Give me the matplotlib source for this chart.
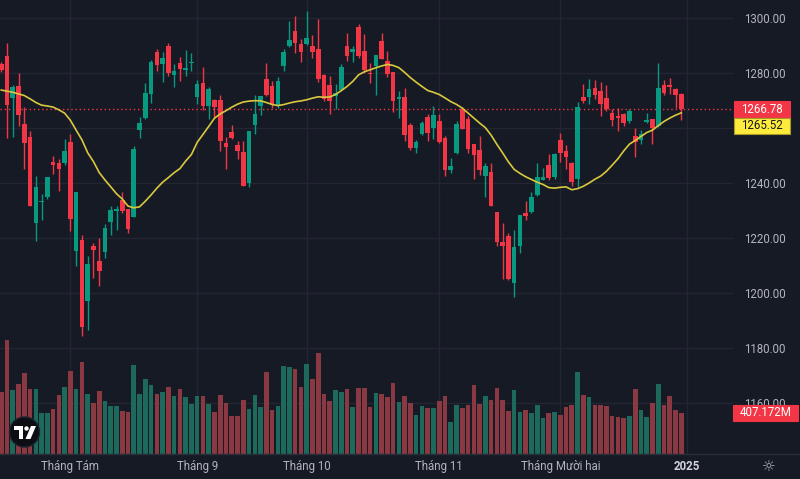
import numpy as np
import pandas as pd
import matplotlib
matplotlib.use("Agg")
import matplotlib.pyplot as plt
from matplotlib.patches import Rectangle, Circle, Polygon
from matplotlib.transforms import Affine2D

plt.rcParams['font.family'] = ['Roboto', 'DejaVu Sans']

# Daily candles, mid July 2024 .. 31 Dec 2024
opens = [1283.2, 1286.2, 1271.0, 1275.4, 1261.5, 1256.8, 1225.6, 1233.2, 1234.8, 1247.8,
         1247.4, 1247.2, 1254.9, 1215.4, 1219.3, 1197.2, 1217.1, 1211.6, 1215.0, 1225.8,
         1229.7, 1233.8, 1230.5, 1227.8, 1259.3, 1263.5, 1272.5, 1287.6, 1283.2, 1289.8,
         1279.4, 1283.5, 1281.2, 1283.6, 1271.4, 1276.5, 1268.0, 1270.2, 1270.2, 1254.4,
         1258.5, 1253.7, 1251.3, 1239.9, 1261.1, 1268.0, 1277.8, 1275.3, 1268.1, 1282.5,
         1289.8, 1295.3, 1290.5, 1290.5, 1289.8, 1288.6, 1279.3, 1275.6, 1271.6, 1273.8,
         1289.8, 1287.8, 1296.7, 1288.0, 1280.1, 1282.7, 1291.5, 1284.5, 1280.4, 1270.7,
         1271.2, 1261.1, 1252.8, 1257.8, 1263.9, 1260.1, 1262.5, 1256.2, 1244.7, 1250.8,
         1266.9, 1263.3, 1254.1, 1252.0, 1242.7, 1243.9, 1229.6, 1218.4, 1220.9, 1203.5,
         1217.2, 1229.0, 1229.3, 1235.6, 1241.1, 1246.4, 1242.3, 1255.8, 1251.6, 1247.4,
         1241.5, 1271.2, 1271.2, 1274.4, 1273.5, 1270.8, 1265.3, 1264.2, 1265.0, 1262.5,
         1257.1, 1255.6, 1262.3, 1263.2, 1260.7, 1275.8, 1275.6, 1274.1, 1272.2]
highs = [1284.0, 1290.8, 1275.5, 1280.1, 1267.5, 1259.0, 1242.5, 1235.9, 1242.3, 1249.9,
         1248.6, 1255.9, 1257.8, 1236.8, 1221.0, 1213.5, 1218.1, 1220.1, 1225.0, 1231.6,
         1231.8, 1236.6, 1230.7, 1253.5, 1264.0, 1276.2, 1284.7, 1288.6, 1287.6, 1290.8,
         1283.2, 1285.9, 1288.4, 1287.1, 1277.5, 1282.3, 1274.8, 1270.4, 1271.9, 1256.8,
         1261.1, 1255.4, 1255.4, 1259.0, 1272.0, 1271.8, 1283.5, 1277.1, 1278.4, 1288.7,
         1298.9, 1300.7, 1292.2, 1302.5, 1293.8, 1299.5, 1279.6, 1278.9, 1276.0, 1283.2,
         1294.7, 1289.8, 1297.8, 1294.3, 1283.5, 1286.6, 1294.4, 1288.1, 1280.5, 1273.6,
         1274.4, 1261.7, 1255.6, 1262.7, 1265.0, 1268.0, 1265.0, 1257.2, 1249.2, 1262.5,
         1267.5, 1264.4, 1254.3, 1257.2, 1247.2, 1247.2, 1229.6, 1225.3, 1221.7, 1222.9,
         1228.5, 1233.5, 1236.6, 1247.2, 1245.3, 1250.5, 1251.0, 1258.3, 1253.9, 1247.8,
         1269.5, 1276.0, 1277.8, 1277.5, 1276.8, 1275.6, 1266.8, 1267.4, 1265.3, 1266.8,
         1260.1, 1259.3, 1265.3, 1263.3, 1283.5, 1277.5, 1278.1, 1274.5, 1272.6]
lows = [1280.5, 1256.5, 1256.6, 1260.8, 1245.1, 1231.5, 1218.9, 1226.5, 1234.2, 1243.3,
        1237.1, 1246.4, 1222.7, 1209.8, 1184.5, 1186.5, 1205.3, 1202.5, 1212.6, 1221.1,
        1222.9, 1229.0, 1221.9, 1227.6, 1256.5, 1263.3, 1269.2, 1280.7, 1276.8, 1279.0,
        1274.8, 1277.2, 1279.0, 1280.7, 1268.7, 1266.5, 1263.2, 1263.8, 1251.8, 1245.0,
        1256.0, 1248.8, 1238.9, 1238.7, 1257.8, 1264.8, 1271.7, 1267.4, 1267.3, 1280.7,
        1289.5, 1287.4, 1284.1, 1290.3, 1285.3, 1276.8, 1269.9, 1265.0, 1267.0, 1273.6,
        1284.5, 1283.9, 1285.6, 1280.1, 1276.5, 1272.0, 1285.0, 1278.7, 1265.7, 1263.5,
        1255.3, 1252.0, 1251.0, 1257.5, 1255.3, 1255.9, 1254.7, 1242.7, 1243.6, 1250.6,
        1259.5, 1251.0, 1241.5, 1242.9, 1235.0, 1231.7, 1217.2, 1205.0, 1204.9, 1198.4,
        1214.4, 1226.5, 1229.2, 1235.4, 1241.0, 1241.1, 1241.3, 1247.8, 1245.1, 1239.0,
        1238.7, 1269.0, 1268.7, 1270.4, 1264.4, 1266.2, 1260.7, 1259.0, 1260.8, 1261.9,
        1249.6, 1254.1, 1261.9, 1254.2, 1260.5, 1272.0, 1272.4, 1267.4, 1262.9]
closes = [1281.1, 1268.4, 1274.8, 1264.7, 1254.7, 1231.8, 1238.7, 1233.6, 1242.1, 1246.4,
          1245.1, 1251.8, 1226.9, 1236.6, 1187.8, 1210.4, 1215.8, 1208.0, 1223.6, 1230.2,
          1230.5, 1229.9, 1223.3, 1252.4, 1261.8, 1272.7, 1284.1, 1282.9, 1285.5, 1280.1,
          1280.7, 1281.6, 1281.8, 1284.1, 1276.0, 1268.0, 1274.1, 1267.8, 1255.4, 1253.2,
          1256.2, 1251.6, 1239.0, 1258.9, 1265.0, 1271.6, 1272.0, 1268.6, 1277.1, 1287.6,
          1291.9, 1291.0, 1287.8, 1292.6, 1287.8, 1277.8, 1270.7, 1269.9, 1272.8, 1282.1,
          1286.3, 1288.7, 1286.3, 1281.1, 1279.5, 1286.5, 1285.1, 1279.6, 1269.9, 1271.4,
          1257.3, 1252.8, 1254.8, 1261.8, 1258.3, 1264.6, 1254.9, 1244.7, 1246.3, 1261.5,
          1259.6, 1252.5, 1250.2, 1244.7, 1246.1, 1231.8, 1218.4, 1217.1, 1205.0, 1216.6,
          1228.5, 1228.0, 1234.8, 1242.1, 1242.1, 1241.9, 1250.5, 1251.0, 1249.6, 1240.4,
          1267.5, 1269.8, 1274.1, 1272.0, 1268.7, 1266.9, 1263.0, 1263.6, 1261.8, 1266.3,
          1255.0, 1257.7, 1262.9, 1259.9, 1274.4, 1272.6, 1275.0, 1272.0, 1266.78]
volumes = [619, 1132, 636, 695, 801, 642, 642, 410, 410, 447,
           586, 662, 824, 642, 910, 592, 503, 622, 526, 477,
           477, 430, 420, 880, 592, 745, 685, 592, 612, 669,
           576, 642, 563, 497, 576, 576, 497, 420, 586, 503,
           377, 377, 536, 447, 586, 470, 814, 437, 477, 871,
           861, 841, 669, 894, 745, 1006, 592, 526, 636, 619,
           642, 470, 652, 652, 470, 602, 592, 563, 708, 513,
           576, 503, 387, 477, 460, 460, 526, 576, 321, 487,
           460, 487, 685, 497, 576, 536, 652, 536, 430, 636,
           420, 437, 404, 487, 354, 404, 420, 387, 470, 487,
           814, 586, 563, 487, 487, 477, 381, 371, 354, 381,
           642, 437, 371, 503, 695, 487, 576, 437, 407.172]
# MA20 values for the first 19 bars (need closes before the window)
ma_lead = [1273.8, 1273.4, 1273.0, 1272.4, 1271.8, 1270.6, 1269.3, 1268.3, 1268.0, 1267.6,
           1266.6, 1265.4, 1262.8, 1259.2, 1255.7, 1251.0, 1247.8, 1243.8, 1241.1]

month_idx = [12, 34, 53, 76, 97, 119]
month_labels = ['Tháng Tám', 'Tháng 9', 'Tháng 10', 'Tháng 11', 'Tháng Mười hai', '2025']
price_ticks = [1160, 1180, 1200, 1220, 1240, 1260, 1280, 1300]

# colours
bg = '#161a25'
grid_c = '#232632'
up_c, dn_c = '#089981', '#f23645'
vol_up, vol_dn = '#1d6a5c', '#8a3842'
ma_c = '#d9c83f'
txt_c = '#b2b5be'

o = np.array(opens); h = np.array(highs); l = np.array(lows); c = np.array(closes)
v = np.array(volumes)
idx = np.arange(len(c))
up = c >= o

ma = pd.Series(c).rolling(20).mean().to_numpy()
ma[:len(ma_lead)] = ma_lead

W, H = 800, 479
fig = plt.figure(figsize=(W / 100, H / 100), dpi=100, facecolor=bg)
ax = fig.add_axes([0, 25 / H, 733 / W, 454 / H])
ax.set_facecolor(bg)
ax_vol = ax.twinx()
ax.yaxis.tick_right()

ax.set_xlim(-0.215, 126.97)
ax.set_ylim(1141.455, 1306.545)
ax_vol.set_ylim(0, 4508)

# candles
col = np.where(up, up_c, dn_c)
body = np.maximum(np.abs(c - o), 0.35)
ax.vlines(idx, l, h, colors=col, lw=1, zorder=3)
ax.bar(idx, body, bottom=np.minimum(o, c) - (body - np.abs(c - o)) / 2,
       width=0.8, color=col, lw=0, zorder=4)
ax.plot(idx, ma, color=ma_c, lw=1.2, zorder=5)
ax.axhline(c[-1], color=dn_c, ls=(0, (1, 2)), lw=1, zorder=2)

# volume
ax_vol.bar(idx, v, width=0.8, color=np.where(up, vol_up, vol_dn), lw=0)
ax_vol.yaxis.set_visible(False)

# axes styling; the 1260 label sits under the price tags, so it stays blank
ax.set_yticks(price_ticks)
ax.set_yticklabels(['' if p == 1260 else f'{p:.2f}' for p in price_ticks])
ax.set_xticks(month_idx)
ax.set_xticklabels(month_labels)
ax.tick_params(axis='y', length=0, pad=8, labelsize=8.3, labelcolor=txt_c)
ax.tick_params(axis='x', length=0, pad=4.5, labelsize=8.3, labelcolor=txt_c)
ax.get_xticklabels()[-1].set_color('#d1d4dc')
ax.get_xticklabels()[-1].set_fontweight('bold')
ax.grid(True, color=grid_c, lw=1)
ax.set_axisbelow(True)
for a in (ax, ax_vol):
    for s in a.spines.values():
        s.set_visible(False)

# pixel coordinates measured from the top-left corner
px = Affine2D().scale(1 / W, -1 / H).translate(0, 1) + fig.transFigure

def y_px(a, val):
    return H - a.transData.transform((0, val))[1]

def tag(yc, x0, x1, hh, face, text, tcolor, edge=None):
    fig.add_artist(Rectangle((x0, yc - hh / 2), x1 - x0, hh, transform=px,
                             facecolor=face, edgecolor=edge or face, lw=0.8))
    fig.text((x0 + x1) / 2, yc, text, transform=px, ha='center', va='center',
             color=tcolor, fontsize=8.3)

yc_close = y_px(ax, c[-1])
tag(yc_close, 734, 790, 16.6, dn_c, f'{c[-1]:.2f}', 'white')
yc_ma = max(y_px(ax, ma[-1]), yc_close + 16.4)
tag(yc_ma, 734, 790, 16.0, '#ffeb3b', f'{ma[-1]:.2f}', '#131722', edge='#a89a2a')
tag(y_px(ax_vol, v[-1]), 733, 798, 16.0, dn_c, f'{v[-1]:.3f}M', 'white')

# bottom separator
fig.add_artist(plt.Line2D([0, W], [454, 454], transform=px, color='#2a2e39', lw=1))

# logo
fig.add_artist(Circle((24.5, 432), 15, transform=px, facecolor='#0c0e14', edgecolor='#1e222d', lw=1))
fig.add_artist(Polygon([(14, 426), (23, 426), (23, 439), (19, 439), (19, 430), (14, 430)],
                       transform=px, facecolor='white', lw=0))
fig.add_artist(Circle((26.5, 428.5), 2.2, transform=px, facecolor='white', lw=0))
fig.add_artist(Polygon([(31, 426), (36, 426), (30.5, 439), (25.5, 439)],
                       transform=px, facecolor='white', lw=0))

# settings icon
fig.text(769, 467, '☼', transform=px, ha='center', va='center', color=txt_c,
         fontsize=11, family='DejaVu Sans')

fig.savefig('out.png', dpi=100, facecolor=bg)
